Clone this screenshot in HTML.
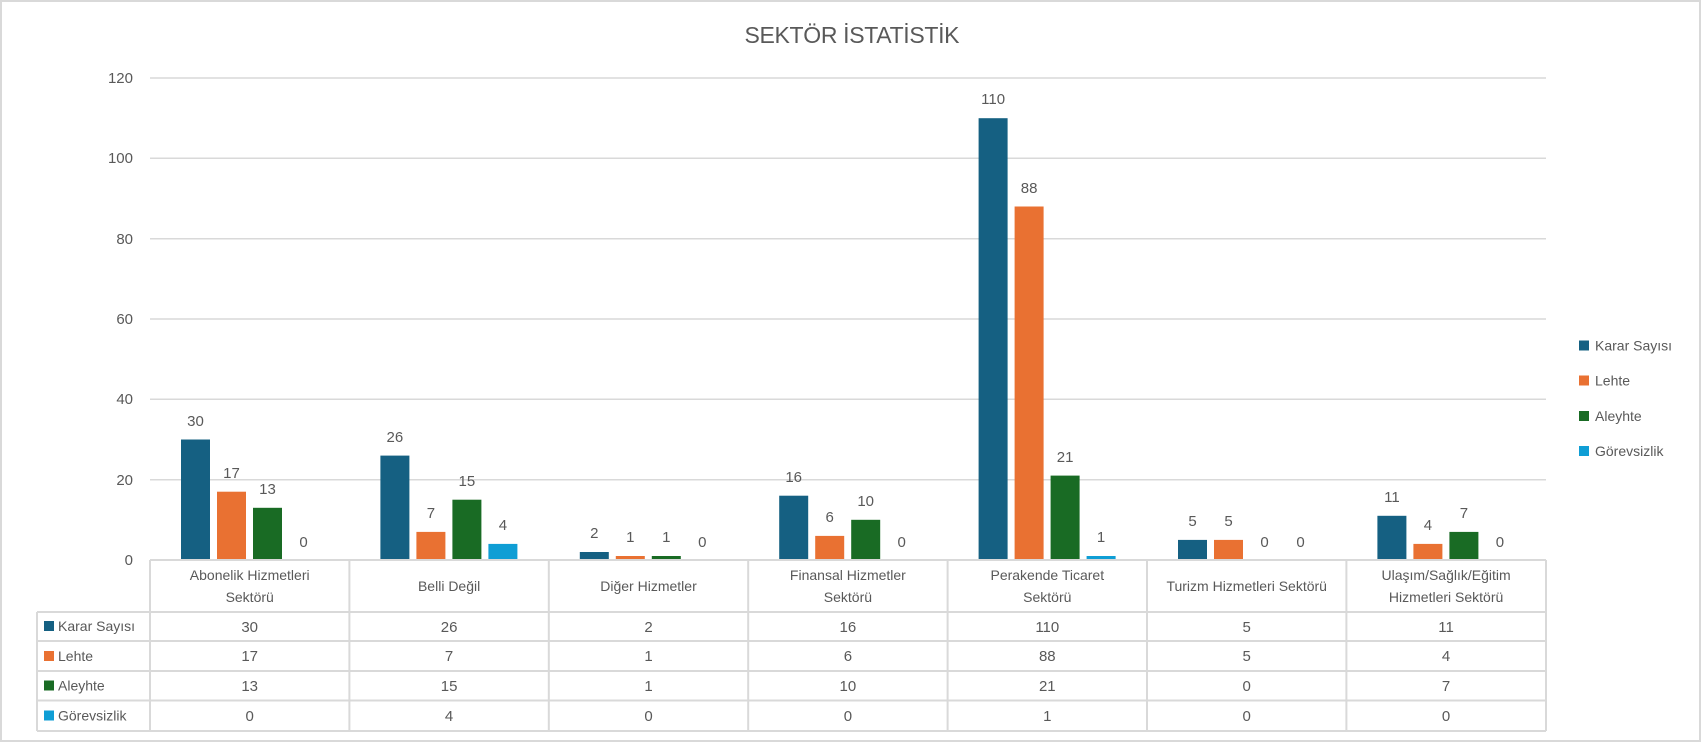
<!DOCTYPE html>
<html><head><meta charset="utf-8"><style>
html,body{margin:0;padding:0;background:#fff}
svg{display:block}
text{font-family:"Liberation Sans",sans-serif;fill:#595959}
</style></head><body>
<svg width="1702" height="743" viewBox="0 0 1702 743" xmlns="http://www.w3.org/2000/svg">
<rect x="1" y="1" width="1699" height="740" fill="#fff" stroke="#d9d9d9" stroke-width="2"/>
<text x="852" y="43" font-size="23" text-anchor="middle" textLength="215">SEKTÖR İSTATİSTİK</text>
<g stroke="#d9d9d9" stroke-width="1.5">
<line x1="150" y1="78" x2="1546" y2="78"/>
<line x1="150" y1="158.3" x2="1546" y2="158.3"/>
<line x1="150" y1="238.7" x2="1546" y2="238.7"/>
<line x1="150" y1="319" x2="1546" y2="319"/>
<line x1="150" y1="399.3" x2="1546" y2="399.3"/>
<line x1="150" y1="479.7" x2="1546" y2="479.7"/>
</g>
<g font-size="15" text-anchor="end">
<text x="133" y="83">120</text><text x="133" y="163">100</text><text x="133" y="244">80</text>
<text x="133" y="324">60</text><text x="133" y="404">40</text><text x="133" y="485">20</text><text x="133" y="565">0</text>
</g>
<g>
<rect x="181" y="439.5" width="29" height="120.5" fill="#156082"/>
<rect x="217" y="491.7" width="29" height="68.3" fill="#E97132"/>
<rect x="253" y="507.8" width="29" height="52.2" fill="#196B24"/>
<rect x="380.4" y="455.6" width="29" height="104.4" fill="#156082"/>
<rect x="416.4" y="531.9" width="29" height="28.1" fill="#E97132"/>
<rect x="452.4" y="499.7" width="29" height="60.3" fill="#196B24"/>
<rect x="488.4" y="543.9" width="29" height="16.1" fill="#0F9ED5"/>
<rect x="579.8" y="552" width="29" height="8" fill="#156082"/>
<rect x="615.8" y="556" width="29" height="4" fill="#E97132"/>
<rect x="651.8" y="556" width="29" height="4" fill="#196B24"/>
<rect x="779.2" y="495.7" width="29" height="64.3" fill="#156082"/>
<rect x="815.2" y="535.9" width="29" height="24.1" fill="#E97132"/>
<rect x="851.2" y="519.8" width="29" height="40.2" fill="#196B24"/>
<rect x="978.6" y="118.2" width="29" height="441.8" fill="#156082"/>
<rect x="1014.6" y="206.5" width="29" height="353.5" fill="#E97132"/>
<rect x="1050.6" y="475.6" width="29" height="84.4" fill="#196B24"/>
<rect x="1086.6" y="556" width="29" height="4" fill="#0F9ED5"/>
<rect x="1178" y="539.9" width="29" height="20.1" fill="#156082"/>
<rect x="1214" y="539.9" width="29" height="20.1" fill="#E97132"/>
<rect x="1377.4" y="515.8" width="29" height="44.2" fill="#156082"/>
<rect x="1413.4" y="543.9" width="29" height="16.1" fill="#E97132"/>
<rect x="1449.4" y="531.9" width="29" height="28.1" fill="#196B24"/>
</g>
<g font-size="15" text-anchor="middle">
<text x="195.5" y="426">30</text><text x="231.5" y="478">17</text><text x="267.5" y="494">13</text><text x="303.5" y="547">0</text>
<text x="394.9" y="442">26</text><text x="430.9" y="518">7</text><text x="466.9" y="486">15</text><text x="502.9" y="530">4</text>
<text x="594.3" y="538">2</text><text x="630.3" y="542">1</text><text x="666.3" y="542">1</text><text x="702.3" y="547">0</text>
<text x="793.7" y="482">16</text><text x="829.7" y="522">6</text><text x="865.7" y="506">10</text><text x="901.7" y="547">0</text>
<text x="993.1" y="104">110</text><text x="1029.1" y="193">88</text><text x="1065.1" y="462">21</text><text x="1101.1" y="542">1</text>
<text x="1192.5" y="526">5</text><text x="1228.5" y="526">5</text><text x="1264.5" y="547">0</text><text x="1300.5" y="547">0</text>
<text x="1391.9" y="502">11</text><text x="1427.9" y="530">4</text><text x="1463.9" y="518">7</text><text x="1499.9" y="547">0</text>
</g>
<g stroke="#d9d9d9" stroke-width="2">
<line x1="150" y1="560" x2="1546" y2="560"/>
<line x1="37" y1="612" x2="1546" y2="612"/>
<line x1="37" y1="641" x2="1546" y2="641"/>
<line x1="37" y1="671" x2="1546" y2="671"/>
<line x1="37" y1="700.5" x2="1546" y2="700.5"/>
<line x1="37" y1="731" x2="1546" y2="731"/>
<line x1="37" y1="612" x2="37" y2="731"/>
<line x1="150" y1="560" x2="150" y2="731"/>
<line x1="349.4" y1="560" x2="349.4" y2="731"/>
<line x1="548.8" y1="560" x2="548.8" y2="731"/>
<line x1="748.2" y1="560" x2="748.2" y2="731"/>
<line x1="947.6" y1="560" x2="947.6" y2="731"/>
<line x1="1147" y1="560" x2="1147" y2="731"/>
<line x1="1346.4" y1="560" x2="1346.4" y2="731"/>
<line x1="1546" y1="560" x2="1546" y2="731"/>
</g>
<g font-size="14" text-anchor="middle">
<text x="249.7" y="580">Abonelik Hizmetleri</text><text x="249.7" y="602">Sektörü</text>
<text x="449.1" y="591">Belli Değil</text>
<text x="648.5" y="591">Diğer Hizmetler</text>
<text x="847.9" y="580">Finansal Hizmetler</text><text x="847.9" y="602">Sektörü</text>
<text x="1047.3" y="580">Perakende Ticaret</text><text x="1047.3" y="602">Sektörü</text>
<text x="1246.7" y="591">Turizm Hizmetleri Sektörü</text>
<text x="1446.1" y="580">Ulaşım/Sağlık/Eğitim</text><text x="1446.1" y="602">Hizmetleri Sektörü</text>
</g>
<g font-size="15" text-anchor="middle">
<text x="249.7" y="632">30</text><text x="449.1" y="632">26</text><text x="648.5" y="632">2</text><text x="847.9" y="632">16</text><text x="1047.3" y="632">110</text><text x="1246.7" y="632">5</text><text x="1446.1" y="632">11</text>
<text x="249.7" y="661">17</text><text x="449.1" y="661">7</text><text x="648.5" y="661">1</text><text x="847.9" y="661">6</text><text x="1047.3" y="661">88</text><text x="1246.7" y="661">5</text><text x="1446.1" y="661">4</text>
<text x="249.7" y="691">13</text><text x="449.1" y="691">15</text><text x="648.5" y="691">1</text><text x="847.9" y="691">10</text><text x="1047.3" y="691">21</text><text x="1246.7" y="691">0</text><text x="1446.1" y="691">7</text>
<text x="249.7" y="721">0</text><text x="449.1" y="721">4</text><text x="648.5" y="721">0</text><text x="847.9" y="721">0</text><text x="1047.3" y="721">1</text><text x="1246.7" y="721">0</text><text x="1446.1" y="721">0</text>
</g>
<g font-size="14">
<rect x="44" y="621" width="10" height="10" fill="#156082"/><text x="58" y="631">Karar Sayısı</text>
<rect x="44" y="651" width="10" height="10" fill="#E97132"/><text x="58" y="661">Lehte</text>
<rect x="44" y="680.5" width="10" height="10" fill="#196B24"/><text x="58" y="690.5">Aleyhte</text>
<rect x="44" y="710.5" width="10" height="10" fill="#0F9ED5"/><text x="58" y="720.5">Görevsizlik</text>
</g>
<g font-size="14">
<rect x="1579" y="340.5" width="10" height="10" fill="#156082"/><text x="1595" y="350.5">Karar Sayısı</text>
<rect x="1579" y="375.5" width="10" height="10" fill="#E97132"/><text x="1595" y="385.5">Lehte</text>
<rect x="1579" y="411" width="10" height="10" fill="#196B24"/><text x="1595" y="421">Aleyhte</text>
<rect x="1579" y="446" width="10" height="10" fill="#0F9ED5"/><text x="1595" y="456">Görevsizlik</text>
</g>
</svg>
</body></html>
